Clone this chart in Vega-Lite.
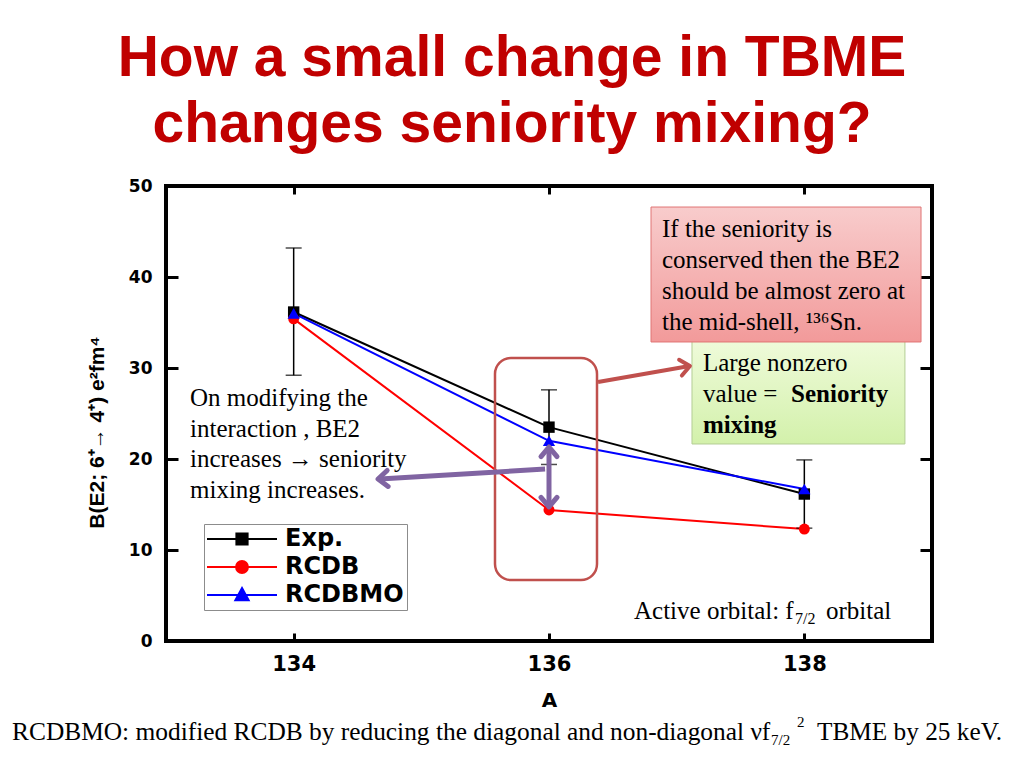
{
  "$schema": "https://vega.github.io/schema/vega-lite/v6.json",
  "width": 766,
  "height": 455,
  "autosize": {"type": "none"},
  "padding": {"left": 166, "top": 186, "right": 92, "bottom": 127},
  "background": "white",
  "title": {
    "text": ["How a small change in TBME", "changes seniority mixing?"],
    "font": "Liberation Sans", "fontSize": 57, "fontWeight": "bold", "color": "#c00000",
    "anchor": "middle", "frame": "group", "dx": -37, "offset": -34, "lineHeight": 66, "baseline": "bottom"
  },
  "config": {
    "view": {"stroke": "black", "strokeWidth": 4},
    "axis": {"grid": false, "domain": false, "tickColor": "black", "tickWidth": 3, "labelColor": "black", "titleColor": "black"}
  },
  "datasets": {
    "pts": [
      {"A": 134, "series": "Exp.", "v": 36.15, "lo": 29.2, "hi": 43.2},
      {"A": 136, "series": "Exp.", "v": 23.5, "lo": 19.4, "hi": 27.6},
      {"A": 138, "series": "Exp.", "v": 16.15, "lo": 12.4, "hi": 19.9},
      {"A": 134, "series": "RCDB", "v": 35.4},
      {"A": 136, "series": "RCDB", "v": 14.4},
      {"A": 138, "series": "RCDB", "v": 12.3},
      {"A": 134, "series": "RCDBMO", "v": 36.0},
      {"A": 136, "series": "RCDBMO", "v": 22.0},
      {"A": 138, "series": "RCDBMO", "v": 16.7}
    ]
  },
  "data": {"name": "pts"},
  "layer": [
    {
      "data": {"values": [{}]},
      "mark": {"type": "rect", "fill": {"gradient": "linear", "x1": 0, "y1": 0, "x2": 0, "y2": 1, "stops": [{"offset": 0, "color": "#f0fbdc"}, {"offset": 1, "color": "#d3f1ab"}]}, "stroke": "#b3cd94", "strokeWidth": 1},
      "encoding": {
        "x": {"datum": 137.12, "type": "quantitative", "axis": null},
        "x2": {"datum": 138.788},
        "y": {"datum": 33.5, "type": "quantitative", "axis": null},
        "y2": {"datum": 21.65}
      }
    },
    {
      "data": {"values": [{}]},
      "mark": {"type": "rect", "fill": {"gradient": "linear", "x1": 0, "y1": 0, "x2": 0, "y2": 1, "stops": [{"offset": 0, "color": "#f8cccc"}, {"offset": 1, "color": "#f29a9a"}]}, "stroke": "#e07474", "strokeWidth": 1},
      "encoding": {
        "x": {"datum": 136.799, "type": "quantitative", "axis": null},
        "x2": {"datum": 138.914},
        "y": {"datum": 47.69, "type": "quantitative", "axis": null},
        "y2": {"datum": 32.86}
      }
    },
    {
      "transform": [{"filter": "datum.series === 'Exp.'"}],
      "mark": {"type": "line", "color": "black", "strokeWidth": 2},
      "encoding": {
        "x": {"field": "A", "type": "quantitative", "scale": {"domain": [133, 139], "nice": false, "zero": false},
          "axis": {"orient": "bottom", "values": [134, 136, 138], "format": "d", "labelFont": "DejaVu Sans", "labelFontWeight": "bold", "labelFontSize": 21, "tickSize": -8, "labelPadding": 20, "labelBaseline": "top",
            "title": "A", "titleFont": "DejaVu Sans", "titleFontWeight": "bold", "titleFontSize": 20, "titleBaseline": "middle", "titleY": 59}},
        "y": {"field": "v", "type": "quantitative", "scale": {"domain": [0, 50], "nice": false, "zero": true},
          "axis": {"orient": "left", "values": [0, 10, 20, 30, 40, 50], "labelFont": "DejaVu Sans", "labelFontWeight": "bold", "labelFontSize": 17, "tickSize": -12, "labelPadding": 26,
            "title": "B(E2; 6⁺→ 4⁺) e²fm⁴", "titleFont": "Liberation Sans", "titleFontWeight": "bold", "titleFontSize": 21, "titleAngle": 270, "titleBaseline": "middle", "titleAlign": "center", "titleX": -69, "titleY": 246}}
      }
    },
    {
      "transform": [{"filter": "datum.series === 'RCDB'"}],
      "mark": {"type": "line", "color": "#ff0000", "strokeWidth": 2},
      "encoding": {
        "x": {"field": "A", "type": "quantitative", "axis": {"orient": "top", "values": [134, 136, 138], "labels": false, "tickSize": -8, "title": null}},
        "y": {"field": "v", "type": "quantitative", "axis": {"orient": "right", "values": [10, 20, 30, 40], "labels": false, "tickSize": -12, "title": null}}
      }
    },
    {
      "transform": [{"filter": "datum.series === 'RCDBMO'"}],
      "mark": {"type": "line", "color": "#0000ff", "strokeWidth": 2},
      "encoding": {
        "x": {"field": "A", "type": "quantitative", "axis": null},
        "y": {"field": "v", "type": "quantitative", "axis": null}
      }
    },
    {
      "transform": [{"filter": "datum.series === 'Exp.'"}],
      "mark": {"type": "rule", "color": "black", "strokeWidth": 1.5},
      "encoding": {
        "x": {"field": "A", "type": "quantitative", "axis": null},
        "y": {"field": "lo", "type": "quantitative", "axis": null},
        "y2": {"field": "hi"}
      }
    },
    {
      "transform": [{"filter": "datum.series === 'Exp.'"}],
      "mark": {"type": "tick", "orient": "horizontal", "color": "black", "size": 16, "thickness": 1.5},
      "encoding": {
        "x": {"field": "A", "type": "quantitative", "axis": null},
        "y": {"field": "hi", "type": "quantitative", "axis": null}
      }
    },
    {
      "transform": [{"filter": "datum.series === 'Exp.'"}],
      "mark": {"type": "tick", "orient": "horizontal", "color": "black", "size": 16, "thickness": 1.5},
      "encoding": {
        "x": {"field": "A", "type": "quantitative", "axis": null},
        "y": {"field": "lo", "type": "quantitative", "axis": null}
      }
    },
    {
      "transform": [{"filter": "datum.series === 'Exp.'"}],
      "mark": {"type": "point", "shape": "square", "filled": true, "color": "black", "size": 130, "opacity": 1},
      "encoding": {
        "x": {"field": "A", "type": "quantitative", "axis": null},
        "y": {"field": "v", "type": "quantitative", "axis": null}
      }
    },
    {
      "transform": [{"filter": "datum.series === 'RCDB'"}],
      "mark": {"type": "point", "shape": "circle", "filled": true, "color": "#ff0000", "size": 120, "opacity": 1},
      "encoding": {
        "x": {"field": "A", "type": "quantitative", "axis": null},
        "y": {"field": "v", "type": "quantitative", "axis": null}
      }
    },
    {
      "transform": [{"filter": "datum.series === 'RCDBMO'"}],
      "mark": {"type": "point", "shape": "triangle-up", "filled": true, "color": "#0000ff", "size": 150, "opacity": 1},
      "encoding": {
        "x": {"field": "A", "type": "quantitative", "axis": null},
        "y": {"field": "v", "type": "quantitative", "axis": null}
      }
    },
    {
      "mark": {"type": "point", "filled": true, "clip": true, "strokeWidth": 2, "opacity": 1},
      "encoding": {
        "x": {"field": "A", "type": "quantitative", "axis": null},
        "y": {"datum": -100, "type": "quantitative", "axis": null},
        "fill": {"field": "series", "type": "nominal", "scale": {"domain": ["Exp.", "RCDB", "RCDBMO"], "range": ["black", "#ff0000", "#0000ff"]},
          "legend": {"title": null, "orient": "none", "legendX": 38, "legendY": 338, "padding": 3, "fillColor": "white", "strokeColor": "#8c8c8c", "symbolSize": 196, "symbolStrokeWidth": 2, "symbolOffset": 23, "labelOffset": 31, "rowPadding": 4, "labelFont": "DejaVu Sans", "labelFontWeight": "bold", "labelFontSize": 24, "labelColor": "black"}},
        "stroke": {"field": "series", "type": "nominal", "scale": {"domain": ["Exp.", "RCDB", "RCDBMO"], "range": ["black", "#ff0000", "#0000ff"]},
          "legend": {"title": null, "orient": "none", "legendX": 38, "legendY": 338, "padding": 3, "fillColor": "white", "strokeColor": "#8c8c8c", "symbolSize": 196, "symbolStrokeWidth": 2, "symbolOffset": 23, "labelOffset": 31, "rowPadding": 4, "labelFont": "DejaVu Sans", "labelFontWeight": "bold", "labelFontSize": 24, "labelColor": "black"}},
        "shape": {"field": "series", "type": "nominal", "scale": {"domain": ["Exp.", "RCDB", "RCDBMO"], "range": ["M-5,0H5M-0.8,-0.8H0.8V0.8H-0.8Z", "M-5,0H5M0.85,0A0.85,0.85,0,1,1,-0.85,0A0.85,0.85,0,1,1,0.85,0Z", "M-5,0H5M0,-1L0.95,0.75H-0.95Z"]},
          "legend": {"title": null, "orient": "none", "legendX": 38, "legendY": 338, "padding": 3, "fillColor": "white", "strokeColor": "#8c8c8c", "symbolSize": 196, "symbolStrokeWidth": 2, "symbolOffset": 23, "labelOffset": 31, "rowPadding": 4, "labelFont": "DejaVu Sans", "labelFontWeight": "bold", "labelFontSize": 24, "labelColor": "black"}}
      }
    },
    {
      "data": {"values": [{}]},
      "mark": {"type": "rect", "filled": false, "fill": "transparent", "stroke": "#c0504d", "strokeWidth": 2.5, "cornerRadius": 16},
      "encoding": {
        "x": {"datum": 135.577, "type": "quantitative", "axis": null},
        "x2": {"datum": 136.376},
        "y": {"datum": 31.1, "type": "quantitative", "axis": null},
        "y2": {"datum": 6.7}
      }
    },
    {
      "data": {"values": [{}]},
      "mark": {"type": "rule", "color": "#c0504d", "strokeWidth": 4},
      "encoding": {
        "x": {"datum": 136.384, "type": "quantitative", "axis": null},
        "x2": {"datum": 137.09},
        "y": {"datum": 28.46, "type": "quantitative", "axis": null},
        "y2": {"datum": 30.2}
      }
    },
    {
      "data": {"values": [{}]},
      "mark": {"type": "point", "shape": "M-1,1.2L0,0L1,1.2", "filled": false, "stroke": "#c0504d", "strokeWidth": 4, "size": 256, "angle": 80, "opacity": 1, "strokeJoin": "round", "strokeCap": "round"},
      "encoding": {
        "x": {"datum": 137.104, "type": "quantitative", "axis": null},
        "y": {"datum": 30.22, "type": "quantitative", "axis": null}
      }
    },
    {
      "data": {"values": [{}]},
      "mark": {"type": "rule", "color": "#8064a2", "strokeWidth": 5},
      "encoding": {
        "x": {"datum": 136, "type": "quantitative", "axis": null},
        "y": {"datum": 21.2, "type": "quantitative", "axis": null},
        "y2": {"datum": 14.85}
      }
    },
    {
      "data": {"values": [{}]},
      "mark": {"type": "point", "shape": "M-1,1.2L0,0L1,1.2", "filled": false, "stroke": "#8064a2", "strokeWidth": 5, "size": 256, "angle": 0, "opacity": 1, "strokeJoin": "round", "strokeCap": "round"},
      "encoding": {
        "x": {"datum": 136, "type": "quantitative", "axis": null},
        "y": {"datum": 21.32, "type": "quantitative", "axis": null}
      }
    },
    {
      "data": {"values": [{}]},
      "mark": {"type": "point", "shape": "M-1,1.2L0,0L1,1.2", "filled": false, "stroke": "#8064a2", "strokeWidth": 5, "size": 256, "angle": 180, "opacity": 1, "strokeJoin": "round", "strokeCap": "round"},
      "encoding": {
        "x": {"datum": 136, "type": "quantitative", "axis": null},
        "y": {"datum": 14.73, "type": "quantitative", "axis": null}
      }
    },
    {
      "data": {"values": [{}]},
      "mark": {"type": "rule", "color": "#8064a2", "strokeWidth": 5},
      "encoding": {
        "x": {"datum": 135.969, "type": "quantitative", "axis": null},
        "x2": {"datum": 134.675},
        "y": {"datum": 18.9, "type": "quantitative", "axis": null},
        "y2": {"datum": 17.8}
      }
    },
    {
      "data": {"values": [{}]},
      "mark": {"type": "point", "shape": "M-1,1.2L0,0L1,1.2", "filled": false, "stroke": "#8064a2", "strokeWidth": 5, "size": 256, "angle": 266.6, "opacity": 1, "strokeJoin": "round", "strokeCap": "round"},
      "encoding": {
        "x": {"datum": 134.661, "type": "quantitative", "axis": null},
        "y": {"datum": 17.8, "type": "quantitative", "axis": null}
      }
    },
    {
      "data": {"values": [{}]},
      "mark": {"type": "text", "align": "left", "baseline": "middle", "font": "Liberation Serif", "fontSize": 25, "lineHeight": 31, "color": "black"},
      "encoding": {
        "x": {"datum": 136.885, "type": "quantitative", "axis": null},
        "y": {"datum": 45.27, "type": "quantitative", "axis": null},
        "text": {"value": ["If the seniority is", "conserved then the BE2", "should be almost zero at", "the mid-shell, ¹³⁶Sn."]}
      }
    },
    {
      "data": {"values": [{}]},
      "mark": {"type": "text", "align": "left", "baseline": "middle", "font": "Liberation Serif", "fontSize": 25, "color": "black"},
      "encoding": {
        "x": {"datum": 137.206, "type": "quantitative", "axis": null},
        "y": {"datum": 30.55, "type": "quantitative", "axis": null},
        "text": {"value": "Large nonzero"}
      }
    },
    {
      "data": {"values": [{}]},
      "mark": {"type": "text", "align": "left", "baseline": "middle", "font": "Liberation Serif", "fontSize": 25, "color": "black"},
      "encoding": {
        "x": {"datum": 137.206, "type": "quantitative", "axis": null},
        "y": {"datum": 27.14, "type": "quantitative", "axis": null},
        "text": {"value": "value ="}
      }
    },
    {
      "data": {"values": [{}]},
      "mark": {"type": "text", "align": "left", "baseline": "middle", "font": "Liberation Serif", "fontSize": 25, "fontWeight": "bold", "color": "black"},
      "encoding": {
        "x": {"datum": 137.896, "type": "quantitative", "axis": null},
        "y": {"datum": 27.14, "type": "quantitative", "axis": null},
        "text": {"value": "Seniority"}
      }
    },
    {
      "data": {"values": [{}]},
      "mark": {"type": "text", "align": "left", "baseline": "middle", "font": "Liberation Serif", "fontSize": 25, "fontWeight": "bold", "color": "black"},
      "encoding": {
        "x": {"datum": 137.206, "type": "quantitative", "axis": null},
        "y": {"datum": 23.74, "type": "quantitative", "axis": null},
        "text": {"value": "mixing"}
      }
    },
    {
      "data": {"values": [{}]},
      "mark": {"type": "text", "align": "left", "baseline": "middle", "font": "Liberation Serif", "fontSize": 25, "lineHeight": 30.7, "color": "black"},
      "encoding": {
        "x": {"datum": 133.188, "type": "quantitative", "axis": null},
        "y": {"datum": 26.7, "type": "quantitative", "axis": null},
        "text": {"value": ["On modifying the", "interaction , BE2", "increases → seniority", "mixing increases."]}
      }
    },
    {
      "data": {"values": [{}]},
      "mark": {"type": "text", "align": "left", "baseline": "middle", "font": "Liberation Serif", "fontSize": 25, "color": "black"},
      "encoding": {
        "x": {"datum": 136.666, "type": "quantitative", "axis": null},
        "y": {"datum": 3.3, "type": "quantitative", "axis": null},
        "text": {"value": "Active orbital: f"}
      }
    },
    {
      "data": {"values": [{}]},
      "mark": {"type": "text", "align": "left", "baseline": "middle", "font": "Liberation Serif", "fontSize": 16, "color": "black"},
      "encoding": {
        "x": {"datum": 137.927, "type": "quantitative", "axis": null},
        "y": {"datum": 2.42, "type": "quantitative", "axis": null},
        "text": {"value": "7/2"}
      }
    },
    {
      "data": {"values": [{}]},
      "mark": {"type": "text", "align": "left", "baseline": "middle", "font": "Liberation Serif", "fontSize": 25, "color": "black"},
      "encoding": {
        "x": {"datum": 138.17, "type": "quantitative", "axis": null},
        "y": {"datum": 3.3, "type": "quantitative", "axis": null},
        "text": {"value": "orbital"}
      }
    },
    {
      "data": {"values": [{}]},
      "mark": {"type": "text", "align": "left", "baseline": "middle", "font": "Liberation Serif", "fontSize": 25.4, "color": "black"},
      "encoding": {
        "x": {"datum": 131.794, "type": "quantitative", "axis": null},
        "y": {"datum": -10.0, "type": "quantitative", "axis": null},
        "text": {"value": "RCDBMO: modified RCDB by reducing the diagonal and non-diagonal νf"}
      }
    },
    {
      "data": {"values": [{}]},
      "mark": {"type": "text", "align": "left", "baseline": "middle", "font": "Liberation Serif", "fontSize": 15, "color": "black"},
      "encoding": {
        "x": {"datum": 137.739, "type": "quantitative", "axis": null},
        "y": {"datum": -10.88, "type": "quantitative", "axis": null},
        "text": {"value": "7/2"}
      }
    },
    {
      "data": {"values": [{}]},
      "mark": {"type": "text", "align": "left", "baseline": "middle", "font": "Liberation Serif", "fontSize": 15, "color": "black"},
      "encoding": {
        "x": {"datum": 137.943, "type": "quantitative", "axis": null},
        "y": {"datum": -8.9, "type": "quantitative", "axis": null},
        "text": {"value": "2"}
      }
    },
    {
      "data": {"values": [{}]},
      "mark": {"type": "text", "align": "left", "baseline": "middle", "font": "Liberation Serif", "fontSize": 25.3, "color": "black"},
      "encoding": {
        "x": {"datum": 138.099, "type": "quantitative", "axis": null},
        "y": {"datum": -10.0, "type": "quantitative", "axis": null},
        "text": {"value": "TBME by 25 keV."}
      }
    }
  ],
  "resolve": {"axis": {"x": "independent", "y": "independent"}}
}
